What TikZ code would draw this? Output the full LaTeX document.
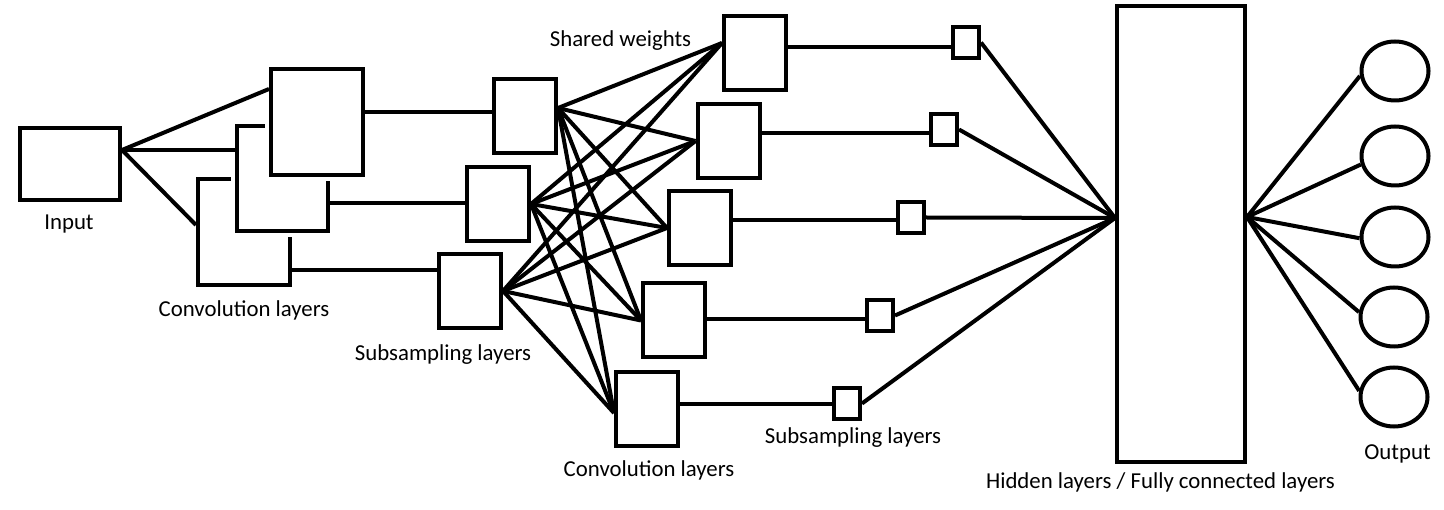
\documentclass[tikz,border=0pt]{standalone}
\usepackage{fontspec}
\setmainfont{Carlito}
\usetikzlibrary{shapes.geometric,calc}
\begin{document}
\begin{tikzpicture}[x=1pt,y=-1pt,
  box/.style={draw, line width=4pt, fill=white, inner sep=0pt, rectangle},
  halo/.style={preaction={draw=white, line width=12pt}},
  cbox/.style={box, minimum width=62pt, minimum height=74pt},
  sbox/.style={box, minimum width=26pt, minimum height=31pt},
  outnode/.style={draw, ellipse, line width=4pt, inner sep=0pt, minimum width=67pt, minimum height=59pt},
  conn/.style={line width=4pt},
  lbl/.style={anchor=base, font=\fontsize{22.8}{27}\selectfont, inner sep=0pt}]
\fill[white] (0,0) rectangle (1444,510);
\useasboundingbox (0,0) rectangle (1444,510);

% input and first convolution layers
\node[box, minimum width=100pt, minimum height=72pt] (in) at (70,164) {};
\node[box, minimum width=92pt, minimum height=106pt] (cv3) at (244,232) {};
\node[box, halo, minimum width=91pt, minimum height=105pt] (cv2) at (282.5,178.5) {};
\node[box, halo, minimum width=92pt, minimum height=106pt] (cv1) at (317,122) {};

% subsampling layers
\node[cbox] (ss1) at (525,116) {};
\node[cbox] (ss2) at (498,204) {};
\node[cbox] (ss3) at (470,291) {};

% second convolution layers
\node[cbox] (c1) at (755,53) {};
\node[cbox] (c2) at (728.5,141) {};
\node[cbox] (c3) at (700,228) {};
\node[cbox] (c4) at (674,320.5) {};
\node[cbox] (c5) at (647,409) {};

% small subsampling layers
\node[sbox] (sm1) at (966,42.5) {};
\node[sbox] (sm2) at (944,129.5) {};
\node[sbox] (sm3) at (911,217.5) {};
\node[sbox] (sm4) at (880,315.5) {};
\node[sbox] (sm5) at (847,403.5) {};

% hidden layer
\node[box, minimum width=128pt, minimum height=456pt] (hid) at (1181,234) {};

% outputs
\node[outnode] (o1) at (1395,71) {};
\node[outnode] (o2) at (1395,156) {};
\node[outnode] (o3) at (1395,237) {};
\node[outnode] (o4) at (1394,317) {};
\node[outnode] (o5) at (1394,397) {};

% connectors: input to convolution
\coordinate (io) at ([yshift=14pt]in.east);
\draw[conn] (io) -- ([yshift=33pt]cv1.west);
\draw[conn] (io) -- ([yshift=28.5pt]cv2.west);
\draw[conn] (io) -- ([yshift=7pt]cv3.west);

% convolution to subsampling
\draw[conn] (cv1.east |- 0,112) -- (ss1.west |- 0,112);
\draw[conn] (cv2.east |- 0,203) -- (ss2.west |- 0,203);
\draw[conn] (cv3.east |- 0,270) -- (ss3.west |- 0,270);

% shared weights crossing
\coordinate (s1o) at ([yshift=8pt]ss1.east);
\coordinate (s2o) at (ss2.east);
\coordinate (s3o) at (ss3.east);
\coordinate (c1i) at ([yshift=10pt]c1.west);
\coordinate (c2i) at (c2.west);
\coordinate (c3i) at (c3.west);
\coordinate (c4i) at (c4.west);
\coordinate (c5i) at ([yshift=-4pt]c5.west);
\foreach \s in {s1o,s2o,s3o}
  \foreach \c in {c1i,c2i,c3i,c4i,c5i}
    \draw[conn] (\s) -- (\c);

% convolution to small subsampling
\draw[conn] (c1.east |- 0,47) -- (sm1.west |- 0,47);
\draw[conn] (c2.east |- 0,133) -- (sm2.west |- 0,133);
\draw[conn] (c3.east |- 0,220) -- (sm3.west |- 0,220);
\draw[conn] (c4.east |- 0,319) -- (sm4.west |- 0,319);
\draw[conn] (c5.east |- 0,404) -- (sm5.west |- 0,404);

% small subsampling to hidden
\coordinate (hl) at ([yshift=16pt]hid.west);
\foreach \i in {1,...,5}
  \draw[conn] (sm\i.east) -- (hl);

% hidden to outputs
\coordinate (hr) at ([yshift=17pt]hid.east);
\foreach \i/\a in {1/188,2/194,3/182,4/172,5/170}
  \draw[conn] (hr) -- (o\i.\a);

% labels
\node[lbl] (lin) at (69,230) {Input};
\node[lbl] (lcv) at (244,317) {Convolution layers};
\node[lbl] (lss) at (443,361) {Subsampling layers};
\node[lbl] (lsw) at (620.5,46.5) {Shared weights};
\node[lbl] (lc) at (649,477) {Convolution layers};
\node[lbl] (lsm) at (853,444) {Subsampling layers};
\node[lbl] (lhid) at (1160.5,489) {Hidden layers / Fully connected layers};
\node[lbl] (lout) at (1397.5,460) {Output};
\end{tikzpicture}
\end{document}
